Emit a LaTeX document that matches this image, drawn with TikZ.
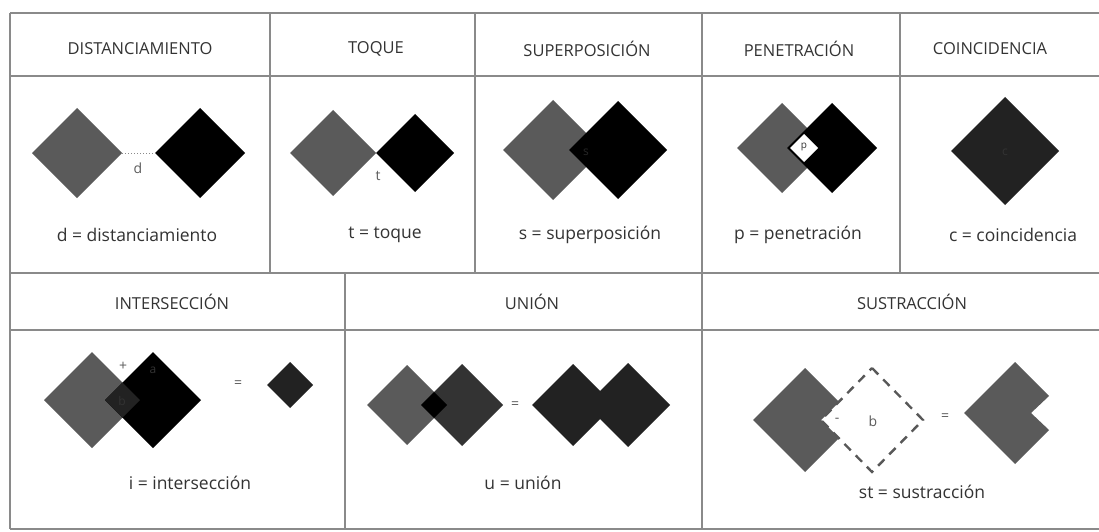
\documentclass[tikz,border=0pt]{standalone}
\usepackage{fontspec}
\setmainfont{Open Sans}
\definecolor{gridc}{HTML}{8A8A8A}
\definecolor{txt}{HTML}{333333}
\definecolor{greyA}{HTML}{5A5A5A}
\definecolor{darkB}{HTML}{222222}
\definecolor{darkC}{HTML}{333333}
\definecolor{faintc}{HTML}{262626}
\definecolor{subgrey}{HTML}{585858}
\newcommand\dmdshape[4]{\fill[#1] (#2-#4,#3) -- (#2,#3-#4) -- (#2+#4,#3) -- (#2,#3+#4) -- cycle;}
\begin{document}
\begin{tikzpicture}[x=1pt,y=-1pt,
  frame/.style={draw=gridc, line width=1.4pt},
  head/.style={font=\fontsize{16.5}{19}\selectfont, text=txt, inner sep=0pt},
  lab/.style={font=\fontsize{17.5}{20}\selectfont, text=txt, inner sep=0pt},
  small/.style={font=\fontsize{14}{16}\selectfont, text=txt!80, inner sep=0pt},
  faint/.style={font=\fontsize{12}{14}\selectfont, text=faintc, inner sep=0pt}]
\useasboundingbox (0,0) rectangle (1099,532);
\fill[white] (0,0) rectangle (1099,532);
% ---------- grid ----------
\draw[frame] (10,13) -- (1099,13);
\draw[frame] (10,76) -- (1099,76);
\draw[frame] (10,273) -- (1099,273);
\draw[frame] (10,330) -- (1099,330);
\draw[frame] (10,529) -- (1099,529);
\draw[frame] (10,13) -- (10,529);
\foreach \xx in {270,475,702,900} {\draw[frame] (\xx,13) -- (\xx,274);}
\foreach \xx in {345,702} {\draw[frame] (\xx,273) -- (\xx,529);}
% ---------- headers ----------
\node[head] (h1) at (140,49) {DISTANCIAMIENTO};
\node[head] (h2) at (376,49) {TOQUE};
\node[head] (h3) at (587,49) {SUPERPOSICIÓN};
\node[head] (h4) at (799,49) {PENETRACIÓN};
\node[head] (h5) at (990,49) {COINCIDENCIA};
\node[head] (h6) at (172,302) {INTERSECCIÓN};
\node[head] (h7) at (532,302) {UNIÓN};
\node[head] (h8) at (912,302) {SUSTRACCIÓN};
% ---------- distanciamiento ----------
\dmdshape{greyA}{77}{153}{45}
\dmdshape{black}{200}{153}{45}
\coordinate (d1) at (122,153);
\coordinate (d2) at (155,153);
\draw[gridc, line width=1pt, dotted] (d1) -- (d2);
\node[small] (dl) at (138,168) {d};
\node[lab] (l1) at (137,235) {d = distanciamiento};
% ---------- toque ----------
\dmdshape{greyA}{333}{153}{43}
\dmdshape{black}{415}{153}{39}
\node[small] (tl) at (378,176) {t};
\node[lab] (l2) at (385,235) {t = toque};
% ---------- superposicion ----------
\dmdshape{greyA}{553}{150}{50}
\dmdshape{black}{618}{150}{49}
\node[faint] (sl) at (586,152) {s};
\node[lab] (l3) at (590,235) {s = superposición};
% ---------- penetracion ----------
\dmdshape{greyA}{782}{148}{45}
\dmdshape{black}{832}{148}{45}
\dmdshape{white}{804}{148}{14}
\node[font=\fontsize{10}{12}\selectfont, text=txt, inner sep=0pt] (pl) at (804,147) {p};
\node[lab] (l4) at (798,235) {p = penetración};
% ---------- coincidencia ----------
\dmdshape{darkB}{1005}{151}{54}
\node[faint, text=darkC] (cl) at (1005,152) {c};
\node[lab] (l5) at (1013,235) {c = coincidencia};
% ---------- interseccion ----------
\dmdshape{greyA}{92}{400}{48}
\dmdshape{black}{153}{400}{48}
\dmdshape{darkB}{122.5}{400}{17.5}
\node[small] (plus) at (123,366) {+};
\node[faint, text=black!80] (ia) at (153,370) {a};
\node[faint, text=darkC] (ib) at (122,401) {b};
\node[small] (ieq) at (238,384) {=};
\dmdshape{darkB}{290}{385}{23}
\node[lab] (l6) at (190,483) {i = intersección};
% ---------- union ----------
\dmdshape{greyA}{407}{405}{40}
\dmdshape{darkC}{462}{405}{41}
\dmdshape{black}{434}{405}{13}
\node[small] (ueq) at (515,405) {=};
\dmdshape{darkB}{573}{405}{41}
\dmdshape{darkB}{628}{405}{42}
\node[lab] (l7) at (523,483) {u = unión};
% ---------- sustraccion ----------
\fill[greyA] (805,368) -- (839,402) -- (821,420) -- (839,438) -- (805,472) -- (753,420) -- cycle;
\draw[subgrey, line width=2.4pt, dash pattern=on 9pt off 7pt] (872,368) -- (923,420) -- (872,472) -- (821,420) -- cycle;
\node[small] (bl) at (873,421) {b};
\node[small] (minus) at (837,420) {-};
\node[small] (seq) at (945,417) {=};
\fill[greyA] (1015,362) -- (1049,396) -- (1031,413) -- (1049,430) -- (1015,464) -- (964,413) -- cycle;
\node[lab] (l8) at (922,492) {st = sustracción};
\end{tikzpicture}
\end{document}
